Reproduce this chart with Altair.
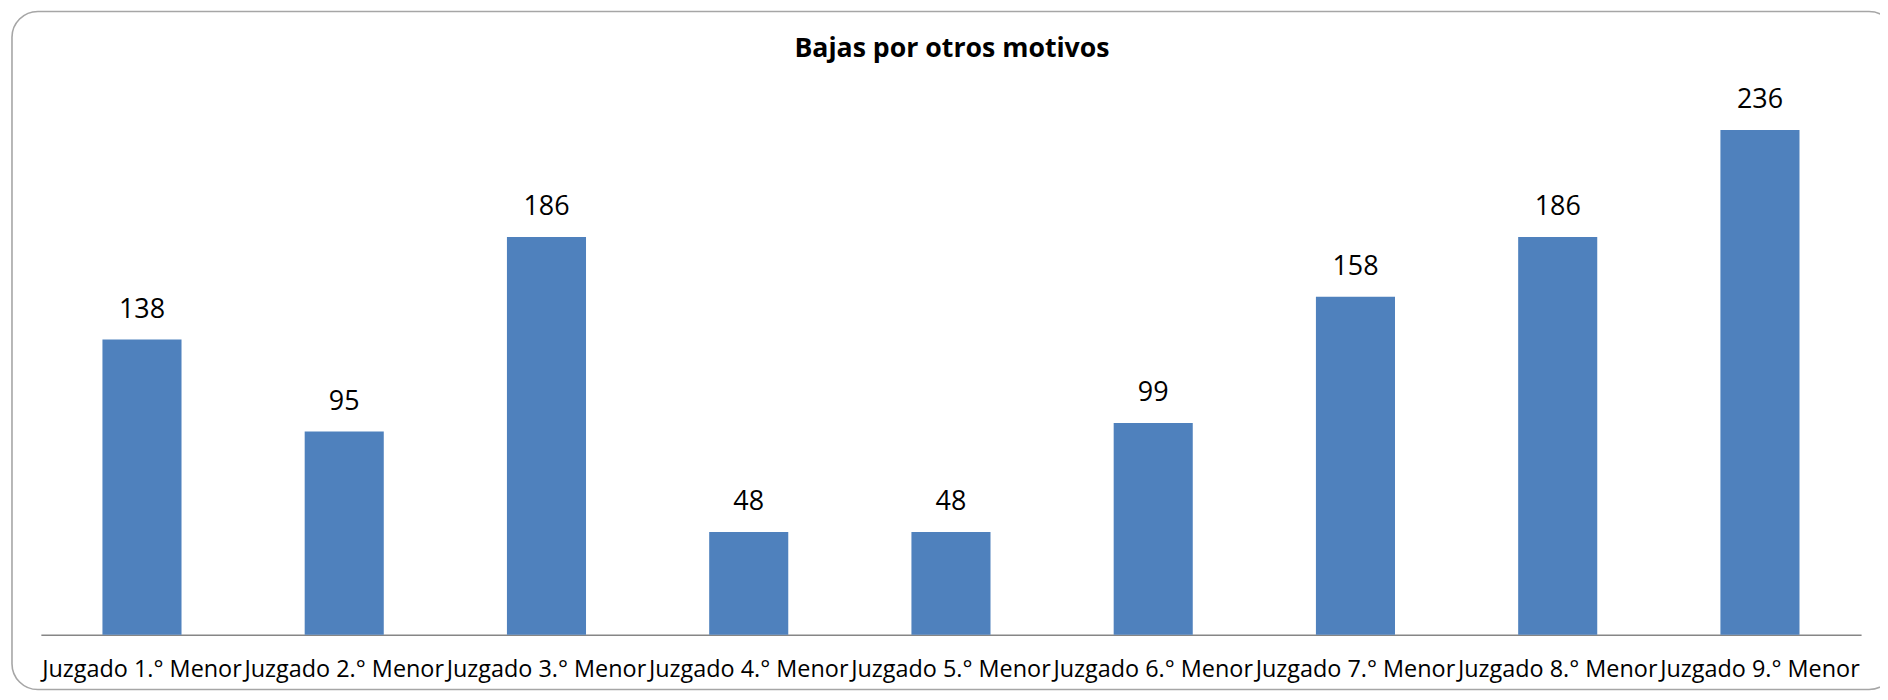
import altair as alt
import pandas as pd

categories = [
    "Juzgado 1.° Menor", "Juzgado 2.° Menor", "Juzgado 3.° Menor",
    "Juzgado 4.° Menor", "Juzgado 5.° Menor", "Juzgado 6.° Menor",
    "Juzgado 7.° Menor", "Juzgado 8.° Menor", "Juzgado 9.° Menor",
]
values = [138, 95, 186, 48, 48, 99, 158, 186, 236]
title_text = ["Bajas por otros motivos"]

df = pd.DataFrame({"juzgado": categories, "bajas": values})
frame_df = pd.DataFrame({"k": [0]})
title_df = pd.DataFrame({"t": title_text})

frame = alt.Chart(frame_df).mark_rect(
    cornerRadius=26, fill="white", fillOpacity=0, stroke="#A6A6A6", strokeWidth=1.6
).encode(
    x=alt.value(-29), x2=alt.value(1862), y=alt.value(-89), y2=alt.value(592)
)

title = alt.Chart(title_df).mark_text(
    font="Open Sans", fontSize=26.8, fontWeight="bold", color="#000000",
    baseline="alphabetic", align="center",
).encode(x=alt.value(915), y=alt.value(-43), text="t:N")

x_enc = alt.X(
    "juzgado:N", sort=None, title=None,
    scale=alt.Scale(paddingInner=0.609, paddingOuter=0.3045),
    axis=alt.Axis(
        labelAngle=0, ticks=False, domainColor="#868686", domainWidth=1.5,
        labelFont="Open Sans", labelFontSize=23.5, labelColor="#000000",
        labelPadding=42, labelBaseline="alphabetic", labelLimit=400,
    ),
)
y_enc = alt.Y("bajas:Q", scale=alt.Scale(domain=[0, 250], nice=False), axis=None)

bars = alt.Chart(df).mark_bar(color="#4F81BD").encode(x=x_enc, y=y_enc)
text = alt.Chart(df).mark_text(
    font="Open Sans", fontSize=27, color="#000000", baseline="alphabetic", dy=-22
).encode(x=alt.X("juzgado:N", sort=None), y="bajas:Q", text="bajas:Q")

chart = alt.layer(frame, title, bars, text).properties(
    width=1828, height=537,
    autosize=alt.AutoSizeParams(type="none"),
    padding={"left": 33, "top": 91, "right": 19, "bottom": 56},
).configure_view(stroke=None)

chart.save("out.html", embed_options={"renderer": "svg", "actions": False})
